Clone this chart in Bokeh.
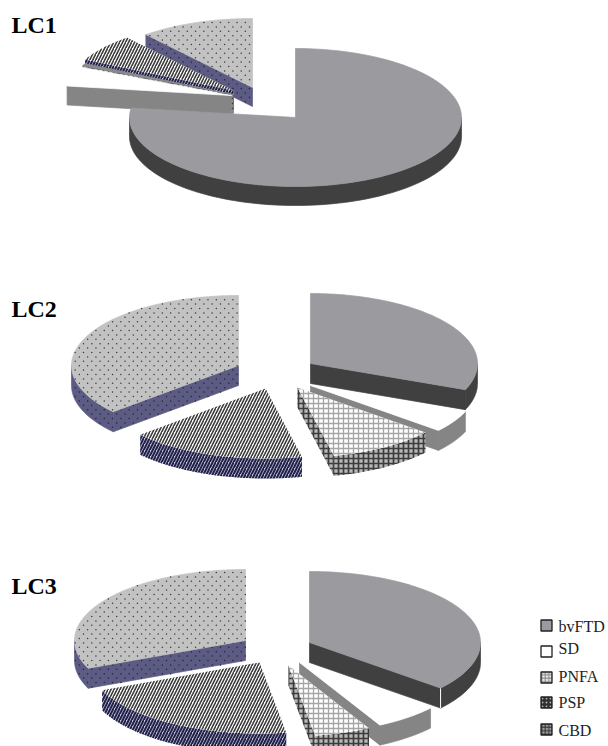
import numpy as np
from bokeh.plotting import figure
from bokeh.embed import file_html
from bokeh.resources import INLINE
from bokeh.core.properties import value

# ---- data (percent of cases per phenotype)
categories = ["bvFTD", "SD", "PNFA", "PSP", "CBD"]
LC1_values = [77.2, 4.6, 0.6, 6.5, 11.1]
LC2_values = [31.1, 5.0, 10.4, 17.0, 36.5]
LC3_values = [36.1, 6.1, 5.3, 21.1, 31.4]
panel_titles = ["LC1", "LC2", "LC3"]

# ---- layout: slice centres (pixel frame of the page), radii and drawing order
panels = [
    dict(vals=LC1_values, title=panel_titles[0], tpos=(11, 24), rx=166, ry=69, d=19, seam=False,
         centers=[(295, 117), (231, 95), (233, 94), (233, 90), (252, 87)],
         order=[4, 3, 2, 1, 0]),
    dict(vals=LC2_values, title=panel_titles[1], tpos=(11, 308), rx=167, ry=70, d=20, seam=False,
         centers=[(310, 363), (310, 385), (297, 387), (265, 388), (238, 365)],
         order=[4, 3, 0, 1, 2]),
    dict(vals=LC3_values, title=panel_titles[2], tpos=(11, 585), rx=171, ry=71, d=20, seam=True,
         centers=[(309, 642), (299, 662), (288, 665), (259, 662), (245, 640)],
         order=[4, 3, 0, 1, 2]),
]

top_style = [
    dict(fill_color="#9b9a9f"),
    dict(fill_color="#ffffff"),
    dict(fill_color="#ffffff", hatch_pattern="cross", hatch_color="#a5a5a5", hatch_scale=5, hatch_weight=1.3),
    dict(fill_color="#ffffff", hatch_pattern="right_diagonal_line", hatch_color="#3a3a3a", hatch_scale=6, hatch_weight=1.6),
    dict(fill_color="#c2c2c2"),
]
side_style = [
    dict(fill_color="#404040"),
    dict(fill_color="#858585"),
    dict(fill_color="#b8b8b8", hatch_pattern="cross", hatch_color="#3c3c3c", hatch_scale=5, hatch_weight=1.7),
    dict(fill_color="#c8c8d8", hatch_pattern="right_diagonal_line", hatch_color="#20204a", hatch_scale=6, hatch_weight=2.0),
    dict(fill_color="#5b5b83"),
]
DOTTED = "CBD"

p = figure(width=608, height=746, output_backend="svg", toolbar_location=None,
           x_range=(0, 608), y_range=(746, 0), min_border=0)
p.axis.visible = False
p.grid.visible = False
p.outline_line_color = None


def slice_xy(cx, cy, rx, ry, a0, a1, n=90):
    t = np.radians(np.linspace(a0, a1, n))
    return cx + rx * np.sin(t), cy - ry * np.cos(t)


def edge(style):
    # plain fills get a hairline of their own colour so that seams close up
    if "hatch_pattern" in style:
        return dict(line_color=None)
    return dict(line_color=style["fill_color"], line_width=0.7)


def dot_texture(xs, ys, color):
    # small staggered dots, kept inside the polygon by ray casting
    xs, ys = np.asarray(xs, float), np.asarray(ys, float)
    dx, dy = 8.3, 4.4
    rows = np.arange(np.floor(ys.min() / dy), np.ceil(ys.max() / dy) + 1)
    gx, gy = [], []
    for r in rows:
        off = (r % 2) * dx / 2
        cols = np.arange(np.floor(xs.min() / dx) - 1, np.ceil(xs.max() / dx) + 1)
        gx.extend(cols * dx + off)
        gy.extend([r * dy] * len(cols))
    gx, gy = np.array(gx), np.array(gy)
    x0, y0 = xs, ys
    x1, y1 = np.roll(xs, -1), np.roll(ys, -1)
    inside = np.zeros(len(gx), bool)
    for a, b, c, e in zip(x0, y0, x1, y1):
        if b == e:
            continue
        crosses = (b > gy) != (e > gy)
        inside ^= crosses & (gx < a + (gy - b) * (c - a) / (e - b))
    p.scatter(gx[inside], gy[inside], marker="circle", size=1.5,
              fill_color=color, line_color=None)


def draw_side(xs, ys, i):
    st = side_style[i]
    p.patch(xs, ys, **edge(st), **st)
    if categories[i] == DOTTED:
        dot_texture(xs, ys, "#25253a")


for pan in panels:
    angles = np.concatenate([[0], np.cumsum(pan["vals"]) * 3.6])
    rx, ry, d = pan["rx"], pan["ry"], pan["d"]
    for i in pan["order"]:
        cx, cy = pan["centers"][i]
        a0, a1 = angles[i], angles[i + 1]
        ax, ay = slice_xy(cx, cy, rx, ry, a0, a1)
        # radial cut faces that look towards the viewer
        if np.sin(np.radians(a0)) < -1e-6:
            draw_side([cx, ax[0], ax[0], cx], [cy, ay[0], ay[0] + d, cy + d], i)
        if np.sin(np.radians(a1)) > 1e-6:
            draw_side([cx, ax[-1], ax[-1], cx], [cy, ay[-1], ay[-1] + d, cy + d], i)
        # outer rim: only the near half of the ellipse shows
        r0, r1 = max(a0, 90), min(a1, 270)
        if r1 > r0:
            bx, by = slice_xy(cx, cy, rx, ry, r0, r1)
            draw_side(list(bx) + list(bx[::-1]), list(by) + list(by[::-1] + d), i)
        if pan["seam"] and categories[i] == "bvFTD":
            p.line([ax[-1], ax[-1]], [ay[-1], ay[-1] + d], line_color="#ffffff", line_width=1)
        # top surface
        style = dict(top_style[i])
        if pan["title"] == "LC1" and categories[i] == "PNFA":
            style = dict(fill_color="#8a8a8a")
        tx, ty = [cx] + list(ax), [cy] + list(ay)
        p.patch(tx, ty, **edge(style), **style)
        if categories[i] == DOTTED:
            dot_texture(tx, ty, "#3a3a3a")
    p.text([pan["tpos"][0]], [pan["tpos"][1]], text=[pan["title"]],
           text_font=value("Liberation Serif"), text_font_style="bold",
           text_font_size="24px", text_color="#000000",
           text_align="left", text_baseline="middle")

# ---- legend
legend_y = [625, 651, 677, 702, 729]
text_y = [626, 648, 676, 702, 730]
swatch = [
    dict(fill_color="#9b9a9f"),
    dict(fill_color="#ffffff"),
    dict(fill_color="#e8e8e8", hatch_pattern="cross", hatch_color="#888888", hatch_scale=3.5, hatch_weight=1),
    dict(fill_color="#303030", hatch_pattern="dot", hatch_color="#b0b0b0", hatch_scale=4),
    dict(fill_color="#a0a0a0", hatch_pattern="cross", hatch_color="#303030", hatch_scale=3.5, hatch_weight=1),
]
for name, yb, yt, st in zip(categories, legend_y, text_y, swatch):
    p.rect([546], [yb], width=11, height=11, line_color="#202020", line_width=1.3, **st)
    p.text([558], [yt], text=[name], text_font=value("Liberation Serif"),
           text_font_size="16px", text_color="#222222",
           text_align="left", text_baseline="middle")

open("out.html", "w").write(file_html(p, INLINE))
